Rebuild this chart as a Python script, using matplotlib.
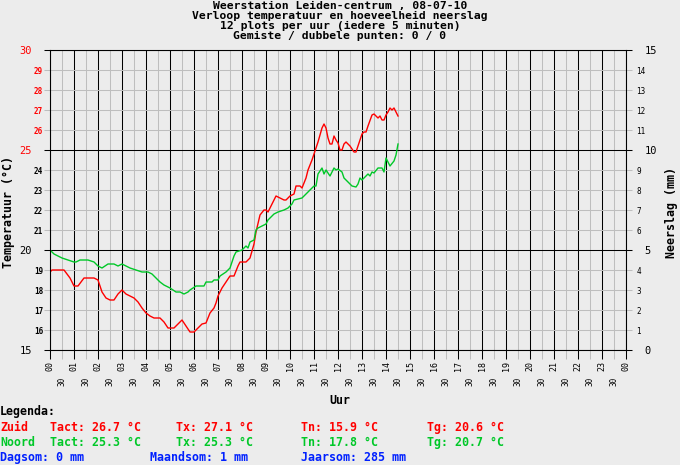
import matplotlib
matplotlib.use("Agg")
import matplotlib.pyplot as plt
from matplotlib.ticker import MultipleLocator, FixedLocator
import numpy as np

# metingen: tijd in minuten na middernacht, temperatuur in graden C
zuid_min = [0, 5, 15, 35, 50, 60, 70, 85, 110, 120, 130, 140, 150, 160, 170, 180, 190, 200,
            210, 220, 230, 240, 250, 260, 275, 285, 295, 310, 320, 330, 340, 350, 360, 370,
            380, 390, 400, 410, 415, 420, 430, 440, 450, 460, 470, 475, 490, 500, 510, 515,
            525, 535, 540, 545, 555, 565, 575, 585, 590, 600, 610, 615, 625, 630, 640, 645,
            655, 660, 670, 680, 685, 690, 695, 700, 705, 710, 715, 720, 725, 730, 735, 740,
            750, 760, 765, 770, 780, 785, 790, 795, 805, 810, 815, 820, 825, 830, 835, 840,
            845, 850, 855, 860, 865, 870]
zuid_temp = [18.9, 19.0, 19.0, 19.0, 18.6, 18.2, 18.2, 18.6, 18.6, 18.5, 17.9, 17.6, 17.5, 17.5,
             17.8, 18.0, 17.8, 17.7, 17.6, 17.4, 17.1, 16.85, 16.7, 16.6, 16.6, 16.4, 16.1, 16.1,
             16.3, 16.5, 16.2, 15.9, 15.9, 16.1, 16.3, 16.35, 16.85, 17.1, 17.35, 17.7, 18.1,
             18.4, 18.7, 18.7, 19.2, 19.4, 19.4, 19.6, 20.3, 20.9, 21.75, 22.0, 22.0, 21.9,
             22.3, 22.7, 22.6, 22.5, 22.5, 22.7, 22.8, 23.2, 23.2, 23.1, 23.6, 24.0, 24.5, 24.8,
             25.4, 26.1, 26.3, 26.1, 25.6, 25.3, 25.3, 25.7, 25.5, 25.35, 25.0, 25.0, 25.3, 25.4,
             25.2, 24.9, 24.9, 25.2, 25.8, 25.9, 25.9, 26.2, 26.75, 26.8, 26.7, 26.6, 26.7, 26.5,
             26.5, 26.75, 26.9, 27.1, 27.0, 27.1, 26.9, 26.7]

noord_min = [0, 10, 20, 30, 45, 60, 65, 75, 95, 110, 120, 130, 145, 160, 170, 180, 190, 200,
             215, 230, 245, 255, 265, 275, 285, 300, 315, 325, 335, 345, 350, 365, 385, 390,
             405, 410, 420, 425, 440, 450, 455, 460, 465, 480, 485, 490, 495, 500, 510, 515,
             520, 530, 540, 545, 560, 570, 585, 595, 605, 610, 620, 630, 640, 650, 660, 665,
             670, 680, 685, 690, 700, 710, 715, 720, 730, 735, 745, 755, 765, 770, 775, 780,
             785, 795, 800, 805, 810, 820, 830, 835, 840, 845, 850, 860, 865, 870]
noord_temp = [20.0, 19.8, 19.7, 19.6, 19.5, 19.4, 19.4, 19.5, 19.5, 19.4, 19.2, 19.1, 19.3, 19.3,
              19.2, 19.3, 19.2, 19.1, 19.0, 18.9, 18.9, 18.8, 18.6, 18.4, 18.25, 18.1, 17.9,
              17.9, 17.8, 17.9, 18.0, 18.2, 18.2, 18.4, 18.4, 18.5, 18.5, 18.7, 18.9, 19.1,
              19.4, 19.7, 19.9, 20.0, 20.1, 20.2, 20.1, 20.4, 20.5, 21.0, 21.1, 21.2, 21.3,
              21.5, 21.8, 21.9, 22.0, 22.1, 22.3, 22.5, 22.55, 22.6, 22.8, 23.0, 23.2, 23.2,
              23.8, 24.1, 23.8, 24.0, 23.7, 24.1, 24.0, 24.05, 23.9, 23.6, 23.4, 23.2, 23.15,
              23.3, 23.6, 23.5, 23.6, 23.8, 23.7, 23.9, 23.85, 24.1, 24.1, 23.9, 24.6, 24.4,
              24.2, 24.45, 24.75, 25.3]

titel = ["Weerstation Leiden-centrum , 08-07-10",
         "Verloop temperatuur en hoeveelheid neerslag",
         "12 plots per uur (iedere 5 minuten)",
         "Gemiste / dubbele punten: 0 / 0"]
uur_labels = ["%02d" % (h % 24) for h in range(25)]

zuid_tekst = ["Zuid", "Tact: 26.7 °C", "Tx: 27.1 °C", "Tn: 15.9 °C", "Tg: 20.6 °C"]
noord_tekst = ["Noord", "Tact: 25.3 °C", "Tx: 25.3 °C", "Tn: 17.8 °C", "Tg: 20.7 °C"]
som_tekst = ["Dagsom: 0 mm", "Maandsom: 1 mm", "Jaarsom: 285 mm"]

BG = "#ececec"
GRIJS = "#bebebe"
ROOD = "#ff0000"
GROEN = "#00c828"
BLAUW = "#0020ff"
MONO = "DejaVu Sans Mono"

W, H = 680, 465
fig = plt.figure(figsize=(W / 100, H / 100), dpi=100, facecolor=BG)
ax = fig.add_axes([50 / W, 1 - 350 / H, 576 / W, 300 / H], facecolor=BG)

ax.plot(np.array(zuid_min) / 60, zuid_temp, color=ROOD, lw=1.0, zorder=3)
ax.plot(np.array(noord_min) / 60, noord_temp, color=GROEN, lw=1.0, zorder=3)

ax.set_xlim(0, 24)
ax.set_ylim(15, 30)

# x-as: hele uren zwart, halve uren grijs
ax.xaxis.set_major_locator(FixedLocator(range(25)))
ax.xaxis.set_minor_locator(FixedLocator(np.arange(0.5, 24, 1)))
ax.set_xticklabels(uur_labels, minor=False)
ax.set_xticklabels(["30"] * 24, minor=True)
ax.tick_params(axis="x", which="major", direction="out", length=6.5, width=0.75,
               color="black", pad=1.5, labelsize=6, labelrotation=90)
ax.tick_params(axis="x", which="minor", direction="out", length=6.5, width=0.75,
               color=GRIJS, pad=13, labelsize=5.5, labelrotation=90)
for lab in ax.get_xticklabels() + ax.get_xticklabels(minor=True):
    lab.set_family(MONO)

# y-as links
ax.yaxis.set_major_locator(MultipleLocator(5))
ax.yaxis.set_minor_locator(MultipleLocator(1))
ax.yaxis.set_minor_formatter(plt.FuncFormatter(lambda v, p: "" if v % 5 == 0 else "%d" % v))
ax.tick_params(axis="y", which="major", direction="out", length=4.3, width=0.75,
               color="black", pad=8.5, labelsize=7.5)
ax.tick_params(axis="y", which="minor", direction="out", length=4.0, width=0.75,
               color=GRIJS, pad=1, labelsize=5.5)
fig.canvas.draw()
for lab in ax.get_yticklabels() + ax.get_yticklabels(minor=True):
    lab.set_family(MONO)
    try:
        v = float(lab.get_text())
    except ValueError:
        continue
    if v >= 25:
        lab.set_color(ROOD)
for lab in ax.get_yticklabels(minor=True):
    lab.set_fontweight("bold")

ax.grid(True, which="major", color="black", lw=0.75, zorder=1)
ax.grid(True, which="minor", color=GRIJS, lw=0.75, zorder=0)
for s in ax.spines.values():
    s.set_color("black")
    s.set_linewidth(0.75)

# y-as rechts: neerslag
ax2 = ax.twinx()
ax2.set_ylim(0, 15)
ax2.yaxis.set_major_locator(MultipleLocator(5))
ax2.yaxis.set_minor_locator(MultipleLocator(1))
ax2.yaxis.set_minor_formatter(plt.FuncFormatter(lambda v, p: "" if v % 5 == 0 else "%d" % v))
ax2.tick_params(axis="y", which="major", direction="out", length=4.3, width=0.75,
                color="black", pad=9, labelsize=7.5)
ax2.tick_params(axis="y", which="minor", direction="out", length=4.0, width=0.75,
                color=GRIJS, pad=3.5, labelsize=5.5)
for lab in ax2.get_yticklabels() + ax2.get_yticklabels(minor=True):
    lab.set_family(MONO)
for s in ax2.spines.values():
    s.set_linewidth(0.75)

# teksten
def tx(x, y, s, size=8.4, **kw):
    fig.text(x / W, 1 - y / H, s, family=MONO, fontweight="bold", fontsize=size, **kw)

# titel als een blok van vier regels
tx(340, 1.5, "\n".join(titel), size=8.2, ha="center", va="top", linespacing=0.98)

tx(9, 212, "Temperatuur (°C)", rotation=90, ha="center", va="center")
tx(672, 212, "Neerslag (mm)", rotation=90, ha="center", va="center")
tx(340, 401, "Uur", ha="center", va="center")

tx(0, 411, "Legenda:", ha="left", va="center")
kol = [0, 50, 176, 301, 427]
for x, s in zip(kol, zuid_tekst):
    tx(x, 427, s, ha="left", va="center", color=ROOD)
for x, s in zip(kol, noord_tekst):
    tx(x, 442, s, ha="left", va="center", color=GROEN)
for x, s in zip([0, 150, 301], som_tekst):
    tx(x, 457, s, ha="left", va="center", color=BLAUW)

fig.savefig("out.png", dpi=100, facecolor=BG)
